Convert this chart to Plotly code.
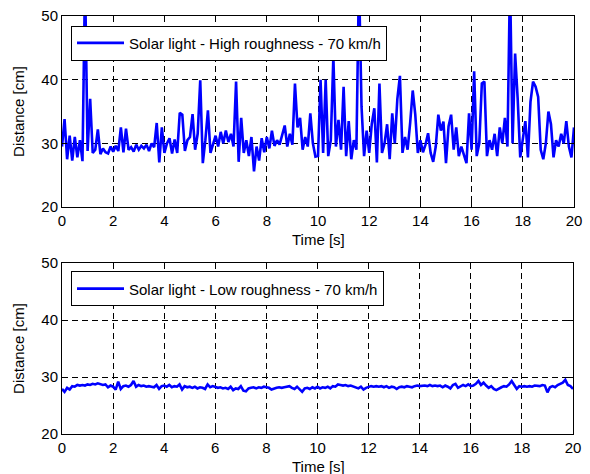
import plotly.graph_objects as go

# Time samples [s]
time = [round(i * 0.1, 1) for i in range(201)]

# Distance [cm] - high roughness (0.1 s step)
high = [
    29.5, 33.8, 27.5, 31.2, 27.3, 31.0, 27.8, 30.5, 27.2, 56.0,
    28.8, 37.0, 28.5, 29.0, 32.2, 28.3, 29.2, 28.6, 28.4, 29.5,
    28.7, 29.6, 28.8, 32.5, 28.6, 32.3, 29.0, 29.4, 28.7, 29.8,
    29.0, 29.6, 29.2, 29.8, 28.8, 30.0, 29.4, 33.2, 27.0, 32.5,
    28.5, 30.0, 30.8, 28.4, 30.6, 28.5, 34.8, 34.5, 28.8, 30.5,
    31.0, 34.6, 29.0, 31.5, 39.9, 26.9, 30.5, 35.2, 28.5, 30.0,
    31.2, 29.5, 31.8, 30.0, 32.0, 30.2, 31.5, 29.5, 39.7, 27.1,
    34.0, 28.5, 30.5, 28.0, 31.0, 25.6, 29.5, 27.3, 30.8, 28.6,
    31.0, 29.2, 32.0, 29.6, 30.5, 29.8, 31.5, 32.8, 29.5, 31.5,
    29.8, 39.4, 32.5, 34.0, 29.0, 31.0, 29.5, 34.7, 30.0, 27.9,
    28.0, 40.0, 28.5, 40.0, 28.0, 30.5, 43.6, 29.5, 33.7, 29.0,
    38.9, 28.0, 33.5, 27.5, 30.5, 29.0, 56.0, 35.8, 28.0, 32.0,
    28.5, 33.0, 35.5, 27.0, 39.4, 28.5, 30.0, 33.0, 27.5, 34.7,
    30.0, 37.0, 40.6, 28.5, 31.0, 29.0, 33.2, 38.3, 34.5, 28.5,
    30.5, 28.6, 29.8, 31.6, 28.5, 27.1, 29.5, 34.5, 32.0, 33.4,
    26.9, 32.7, 34.5, 29.0, 32.5, 28.0, 29.5, 28.2, 26.9, 34.7,
    29.0, 41.3, 28.0, 30.0, 39.4, 39.7, 28.0, 30.5, 29.0, 31.5,
    28.0, 32.5, 30.0, 34.0, 29.5, 56.0, 30.0, 44.1, 37.0, 27.8,
    30.5, 33.5, 27.8, 36.5, 39.7, 38.9, 37.3, 29.0, 27.5, 30.0,
    35.0, 33.0, 27.8, 30.5, 29.5, 31.5, 30.0, 33.5, 29.5, 27.8,
    32.5,
]

# Distance [cm] - low roughness (0.1 s step)
low = [
    27.9, 27.4, 28.1, 27.8, 28.4, 28.3, 28.6, 28.5, 28.6, 28.5,
    28.7, 28.6, 28.8, 28.7, 28.9, 28.8, 28.6, 28.7, 28.2, 28.5,
    28.3, 27.8, 29.2, 27.9, 28.4, 28.5, 28.3, 28.6, 29.3, 28.3,
    28.6, 28.4, 28.5, 28.3, 28.4, 28.3, 28.2, 28.6, 27.9, 28.4,
    28.5, 28.3, 28.6, 28.2, 28.4, 28.3, 28.7, 27.8, 28.4, 28.2,
    28.3, 28.1, 28.3, 28.0, 28.2, 28.1, 27.9, 28.7, 28.2, 28.4,
    28.3, 28.1, 28.2, 28.0, 28.1, 27.9, 28.3, 27.7, 28.0, 27.9,
    28.4, 27.6, 27.5, 28.0, 28.1, 28.2, 28.0, 28.2, 28.1, 28.3,
    28.2, 28.1, 27.8, 28.0, 28.1, 28.2, 28.1, 28.2, 28.3, 28.4,
    28.1, 27.9, 28.3, 27.9, 27.4, 28.0, 28.1, 27.9, 28.2, 28.0,
    28.3, 28.0, 28.2, 28.1, 28.3, 28.0, 28.4, 28.3, 28.7, 28.6,
    28.5, 28.6, 28.4, 28.5, 28.3, 28.2, 28.0, 28.3, 27.8, 28.1,
    28.2, 28.4, 28.3, 28.4, 28.3, 28.4, 28.2, 28.4, 28.1, 28.3,
    28.2, 27.9, 28.2, 28.3, 28.2, 28.4, 28.3, 28.2, 28.4, 28.5,
    28.4, 28.5, 28.5, 28.4, 28.6, 28.4, 28.5, 28.4, 28.5, 28.2,
    28.5, 28.3, 28.0, 28.6, 28.8, 28.1, 28.3, 28.6, 28.4, 28.7,
    28.4, 28.5, 28.8, 29.3, 28.6, 29.0, 28.5, 28.1, 28.4, 27.9,
    27.7, 28.0, 28.2, 28.4, 28.3, 28.7, 29.3, 28.6, 27.9, 28.4,
    28.3, 28.4, 28.3, 28.4, 28.3, 28.5, 28.4, 28.4, 28.6, 28.5,
    27.3, 28.2, 28.4, 28.2, 28.6, 28.8, 29.0, 29.5, 28.6, 28.4,
    27.9,
]

names = ["Solar light - High roughness - 70 km/h",
         "Solar light - Low roughness - 70 km/h"]
x_title = "Time [s]"
y_title = "Distance [cm]"
x_ticks = [0, 2, 4, 6, 8, 10, 12, 14, 16, 18, 20]
y_ticks = [20, 30, 40, 50]

FONT = "Liberation Sans, Arial, sans-serif"

fig = go.Figure()
fig.add_trace(go.Scatter(x=time, y=high, mode="lines", name=names[0],
                         line=dict(color="#0000ff", width=2.6),
                         xaxis="x", yaxis="y", legend="legend"))
fig.add_trace(go.Scatter(x=time, y=low, mode="lines", name=names[1],
                         line=dict(color="#0000ff", width=2.6),
                         xaxis="x2", yaxis="y2", legend="legend2"))

axis_common = dict(
    showline=True, linecolor="black", linewidth=1, mirror="ticks",
    ticks="inside", ticklen=5, tickcolor="black", tickwidth=1,
    showgrid=True, gridcolor="black", gridwidth=0.8, griddash="6px,4px",
    zeroline=False, automargin=False,
    tickfont=dict(size=15, color="black", family=FONT),
)

xa = dict(axis_common, range=[0, 20], tickvals=x_ticks)
ya = dict(axis_common, range=[20, 50], tickvals=y_ticks,
          title=dict(text=y_title, font=dict(size=15, color="black"), standoff=13))

legend_common = dict(
    xanchor="left", yanchor="top", x=0.0176,
    bgcolor="white", bordercolor="black", borderwidth=1,
    itemwidth=47, entrywidth=354, entrywidthmode="pixels",
    font=dict(size=15, color="black", family=FONT),
)

fig.update_layout(
    width=590, height=474,
    margin=dict(l=62, r=16, t=16, b=40, autoexpand=False),
    paper_bgcolor="white", plot_bgcolor="white",
    font=dict(family=FONT, color="black"),
    xaxis=dict(xa, domain=[0, 1], anchor="y"),
    yaxis=dict(ya, domain=[0.543, 1], anchor="x"),
    xaxis2=dict(xa, domain=[0, 0.998], anchor="y2"),
    yaxis2=dict(ya, domain=[0, 0.409], anchor="x2"),
    legend=dict(legend_common, y=0.977),
    legend2=dict(legend_common, y=0.389),
    showlegend=True,
    annotations=[
        dict(text=x_title, xref="paper", yref="paper", x=0.5, y=0.4653,
             xanchor="center", yanchor="middle", showarrow=False,
             font=dict(size=15, color="black", family=FONT)),
        dict(text=x_title, xref="paper", yref="paper", x=0.5, y=-0.0766,
             xanchor="center", yanchor="middle", showarrow=False,
             font=dict(size=15, color="black", family=FONT)),
    ],
)

fig.write_html(
    "out.html",
    config={"displayModeBar": False},
    post_script="document.body.style.margin='0';document.body.style.padding='0';"
                "document.body.style.overflow='hidden';",
)
